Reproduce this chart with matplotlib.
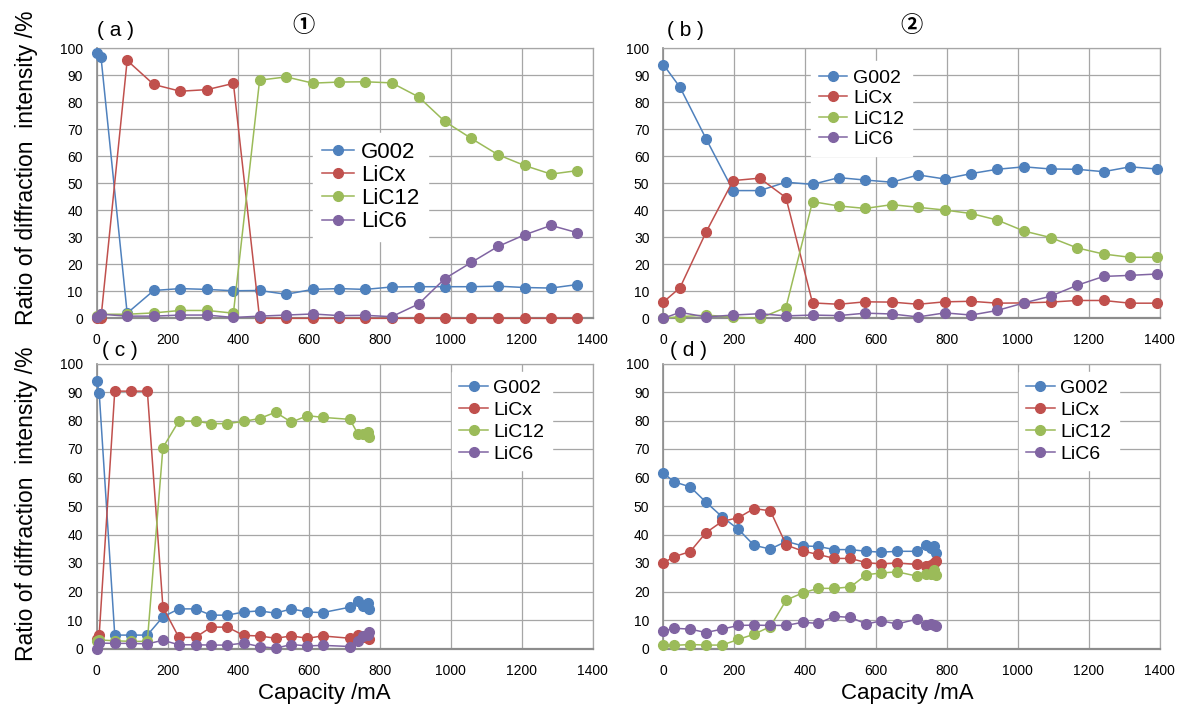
import matplotlib
matplotlib.use("Agg")
import matplotlib.pyplot as plt

# ---------------- data ----------------
series_names = ["G002", "LiCx", "LiC12", "LiC6"]
series_colors = ["#4F81BD", "#C0504D", "#9BBB59", "#8064A2"]
x_ticks = [0, 200, 400, 600, 800, 1000, 1200, 1400]
y_ticks = [0, 10, 20, 30, 40, 50, 60, 70, 80, 90, 100]

# (a)
cap_a = [0, 12, 86, 161, 236, 312, 386, 460, 535, 610, 685, 758, 833, 909, 983, 1058, 1133, 1208, 1283, 1357]
g002_a = [98.1, 96.9, 1.9, 10.3, 11.0, 10.7, 10.2, 10.3, 8.9, 10.7, 11.0, 10.7, 11.6, 11.7, 11.7, 11.7, 11.9, 11.4, 11.2, 12.5]
licx_a = [0, 0, 95.5, 86.6, 84.1, 84.7, 87.0, 0, 0, 0, 0, 0, 0, 0, 0, 0, 0, 0, 0, 0]
lic12_a = [1.0, 1.5, 1.5, 2.0, 2.9, 2.9, 1.9, 88.2, 89.4, 87.1, 87.5, 87.6, 87.2, 82.0, 72.9, 66.6, 60.6, 56.6, 53.4, 54.7]
lic6_a = [0.5, 1.5, 0.8, 0.8, 1.2, 1.2, 0.3, 0.8, 1.2, 1.6, 1.0, 1.1, 0.6, 5.3, 14.7, 20.7, 26.6, 30.9, 34.4, 31.7]

# (b)
cap_b = [0, 47, 121, 197, 272, 346, 421, 495, 570, 645, 719, 794, 869, 942, 1018, 1093, 1167, 1242, 1317, 1392]
g002_b = [94.0, 85.6, 66.4, 47.3, 47.3, 50.4, 49.6, 52.1, 51.2, 50.4, 53.1, 51.6, 53.6, 55.2, 56.1, 55.3, 55.2, 54.3, 56.1, 55.3]
licx_b = [6.0, 11.3, 32.0, 51.0, 51.9, 44.7, 5.7, 5.2, 6.1, 6.0, 5.2, 6.1, 6.3, 5.6, 5.7, 6.0, 6.6, 6.6, 5.6, 5.6]
lic12_b = [0.0, 0.6, 1.2, 0.4, 0.0, 4.0, 43.2, 41.6, 40.7, 42.1, 41.1, 40.1, 38.8, 36.4, 32.3, 29.9, 26.1, 23.8, 22.6, 22.6]
lic6_b = [0.0, 2.2, 0.5, 1.2, 1.7, 0.9, 1.2, 1.0, 1.9, 1.6, 0.5, 2.0, 1.2, 2.9, 5.7, 8.2, 12.2, 15.5, 15.9, 16.4]

# (c)
cap_c = [0, 7, 51, 98, 143, 187, 232, 279, 323, 369, 415, 460, 505, 550, 595, 638, 715, 737, 752, 765, 768]
g002_c = [93.8, 89.8, 4.7, 4.7, 4.7, 11.1, 13.9, 13.9, 11.7, 11.7, 12.8, 13.2, 12.4, 13.9, 12.8, 12.6, 14.5, 16.8, 14.8, 15.8, 14.0]
licx_c = [3.5, 4.7, 90.3, 90.3, 90.3, 14.5, 3.9, 3.9, 7.5, 7.5, 4.6, 4.4, 3.6, 4.4, 3.6, 4.4, 3.6, 4.6, 4.0, 3.8, 3.3]
lic12_c = [2.7, 3.0, 2.7, 2.5, 2.5, 70.5, 79.8, 79.8, 78.9, 78.9, 79.7, 80.7, 82.9, 79.4, 81.7, 81.1, 80.4, 75.4, 75.1, 75.8, 74.3]
lic6_c = [0.0, 1.9, 1.8, 1.8, 1.6, 2.9, 1.3, 1.3, 1.2, 1.2, 1.9, 0.7, 0.1, 1.4, 0.9, 1.1, 0.7, 2.6, 4.4, 4.9, 5.8]

# (d)
cap_d = [0, 30, 76, 120, 166, 212, 256, 302, 347, 393, 437, 483, 528, 573, 615, 660, 715, 740, 755, 765, 769]
g002_d = [61.6, 58.5, 56.7, 51.4, 46.2, 41.8, 36.2, 34.9, 37.6, 36.0, 35.8, 34.7, 34.7, 34.1, 33.8, 34.1, 34.1, 36.2, 35.3, 35.9, 33.5]
licx_d = [30.0, 32.2, 34.0, 40.6, 44.6, 45.9, 49.1, 48.3, 36.3, 34.2, 33.0, 31.6, 31.6, 30.1, 29.7, 30.0, 29.5, 28.9, 29.4, 30.0, 30.6]
lic12_d = [1.1, 1.1, 1.4, 1.2, 1.2, 3.2, 5.0, 7.7, 17.0, 19.5, 21.1, 21.1, 21.6, 25.9, 26.5, 26.9, 25.4, 26.3, 26.0, 27.4, 25.7]
lic6_d = [6.1, 7.1, 6.8, 5.6, 6.8, 8.1, 8.2, 8.1, 8.1, 9.2, 8.8, 11.3, 10.9, 8.6, 9.7, 8.6, 10.3, 8.2, 8.5, 8.3, 7.8]

panel_labels = ["( a )", "( b )", "( c )", "( d )"]
x_label = "Capacity /mA"
y_label = "Ratio of diffraction  intensity /%"

# ---------------- figure ----------------
W, H = 1183, 709
fig = plt.figure(figsize=(W / 100, H / 100), dpi=100)
fig.patch.set_facecolor("white")

FONT = ["Liberation Sans", "DejaVu Sans"]
CJK = ["Noto Sans CJK JP", "DejaVu Sans"]


def px_axes(left, top, right, bottom):
    return fig.add_axes([left / W, 1 - bottom / H, (right - left) / W, (bottom - top) / H])


panels = [
    dict(rect=(96.7, 48.3, 592.5, 318.3), x=cap_a, ys=[g002_a, licx_a, lic12_a, lic6_a],
         leg=(0.436, 0.486), legfs=16, ls=0.1, xpad=10.5),
    dict(rect=(663.3, 48.3, 1159.5, 318.3), x=cap_b, ys=[g002_b, licx_b, lic12_b, lic6_b],
         leg=(0.298, 0.777), legfs=14, ls=0.15, xpad=10.5),
    dict(rect=(96.7, 363.5, 592.5, 648.5), x=cap_c, ys=[g002_c, licx_c, lic12_c, lic6_c],
         leg=(0.716, 0.798), legfs=14, ls=0.22, xpad=11),
    dict(rect=(663.3, 363.5, 1159.5, 648.5), x=cap_d, ys=[g002_d, licx_d, lic12_d, lic6_d],
         leg=(0.716, 0.798), legfs=14, ls=0.22, xpad=11),
]

for p in panels:
    ax = px_axes(*p["rect"])
    for name, col, yv in zip(series_names, series_colors, p["ys"]):
        ax.plot(p["x"], yv, color=col, lw=1.1, marker="o", ms=7, mec=col, mfc=col,
                label=name, clip_on=False, zorder=3)
    ax.set_xlim(0, 1400)
    ax.set_ylim(0, 100)
    ax.set_xticks(x_ticks)
    ax.set_yticks(y_ticks)
    ax.grid(True, color="#A6A6A6", lw=0.9)
    ax.set_axisbelow(True)
    for s in ax.spines.values():
        s.set_color("#A6A6A6")
        s.set_linewidth(0.9)
    ax.spines["bottom"].set_color("#8C8C8C")
    ax.spines["bottom"].set_linewidth(1.6)
    ax.spines["left"].set_color("#8C8C8C")
    ax.spines["left"].set_linewidth(1.2)
    ax.tick_params(length=0, labelsize=10, colors="black")
    ax.tick_params(axis="y", pad=10)
    ax.tick_params(axis="x", pad=p["xpad"])
    for lab in ax.get_xticklabels() + ax.get_yticklabels():
        lab.set_family(FONT)
    leg = ax.legend(loc="center left", bbox_to_anchor=p["leg"], frameon=True,
                    fancybox=False, borderaxespad=0, borderpad=0.4, labelspacing=p["ls"],
                    handlelength=1.45, handletextpad=0.3,
                    prop={"family": FONT, "size": p["legfs"]})
    leg.get_frame().set_edgecolor("white")
    leg.get_frame().set_facecolor("white")
    leg.get_frame().set_alpha(1.0)
    leg.set_zorder(2)


def ftext(x, y, s, **kw):
    fig.text(x / W, 1 - y / H, s, **kw)


# panel labels
ftext(97, 31, panel_labels[0], ha="left", va="center", fontsize=15, family=FONT)
ftext(667, 30, panel_labels[1], ha="left", va="center", fontsize=15, family=FONT)
ftext(102.5, 350, panel_labels[2], ha="left", va="center", fontsize=15, family=FONT)
ftext(670, 350, panel_labels[3], ha="left", va="center", fontsize=15, family=FONT)
ftext(303.5, 25, "①", ha="center", va="center", fontsize=16, family=CJK, fontweight="bold")
ftext(911.5, 25, "②", ha="center", va="center", fontsize=16, family=CJK, fontweight="bold")

# axis titles
ftext(324, 694, x_label, ha="center", va="center", fontsize=16, family=FONT)
ftext(907, 694, x_label, ha="center", va="center", fontsize=16, family=FONT)
ftext(27, 168, y_label, ha="center", va="center", rotation=90, fontsize=16.5, family=FONT)
ftext(27, 504, y_label, ha="center", va="center", rotation=90, fontsize=16.5, family=FONT)

fig.savefig("out.png", dpi=100, facecolor="white")
